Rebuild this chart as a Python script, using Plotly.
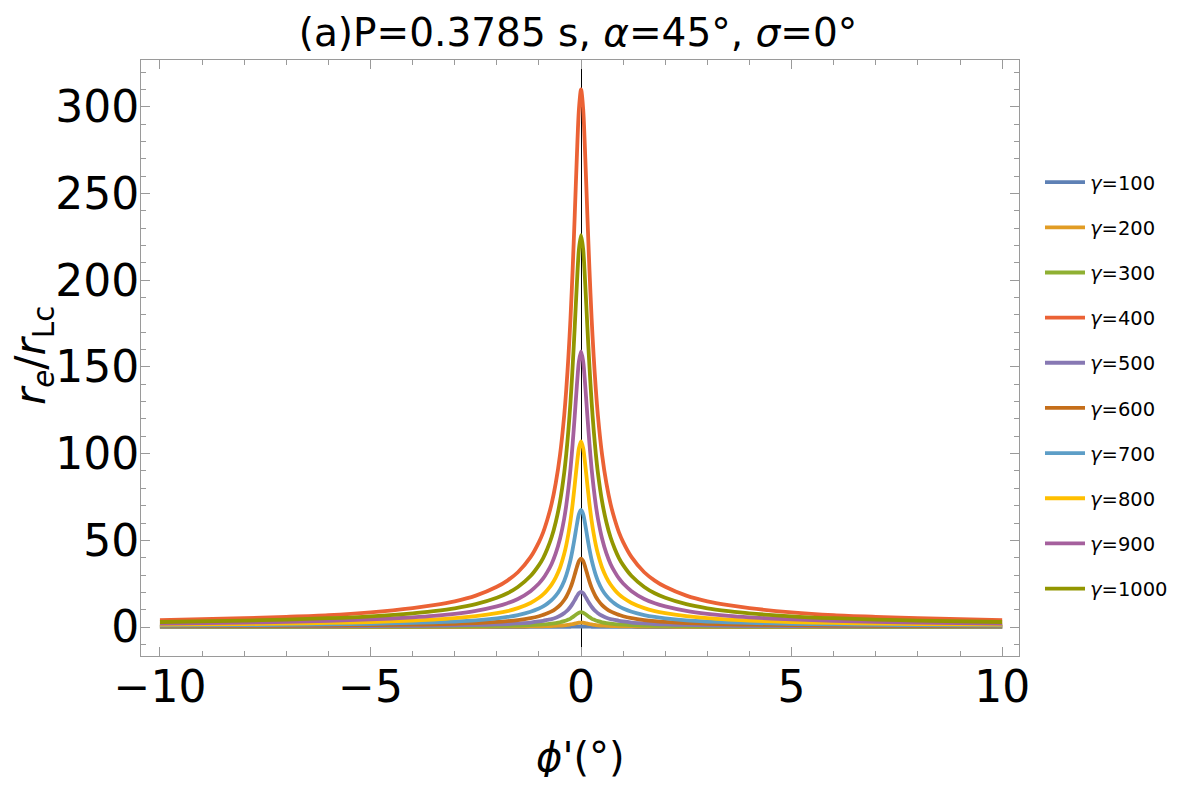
import plotly.graph_objects as go

# phi' (deg), non-negative half; the curves are symmetric about 0
phi_half = [0, 0.05, 0.1, 0.15, 0.2, 0.25, 0.3, 0.35, 0.4, 0.5, 0.6, 0.7, 0.8, 0.9, 1.0,
            1.2, 1.5, 1.75, 2, 2.5, 3, 3.5, 4, 5, 6, 7, 8, 10]

gamma_labels = ["γ=100", "γ=200", "γ=300", "γ=400", "γ=500",
                "γ=600", "γ=700", "γ=800", "γ=900", "γ=1000"]
colors = ["#5E81B5", "#E19C24", "#8FB032", "#EB6235", "#8778B3",
          "#C56E1A", "#5D9EC7", "#FFBF00", "#A5609D", "#929600"]

# r_e / r_Lc values read at phi_half
g100 = [0.31, 0.30, 0.27, 0.24, 0.21, 0.18, 0.16, 0.14, 0.12, 0.10, 0.08, 0.07, 0.06, 0.055, 0.05,
        0.04, 0.03, 0.027, 0.023, 0.018, 0.015, 0.013, 0.011, 0.008, 0.007, 0.006, 0.005, 0.004]
g200 = [2.6, 2.5, 2.27, 1.99, 1.73, 1.5, 1.31, 1.15, 1.02, 0.83, 0.70, 0.60, 0.52, 0.46, 0.41,
        0.34, 0.27, 0.22, 0.19, 0.15, 0.12, 0.11, 0.09, 0.07, 0.06, 0.05, 0.04, 0.03]
g300 = [8.6, 8.3, 7.5, 6.6, 5.7, 4.9, 4.3, 3.8, 3.4, 2.75, 2.3, 1.97, 1.72, 1.51, 1.36,
        1.12, 0.88, 0.74, 0.64, 0.50, 0.41, 0.35, 0.30, 0.24, 0.19, 0.16, 0.14, 0.11]
g400 = [310, 298.8, 270.9, 237.5, 205.8, 178.3, 155.9, 137.3, 122.1, 99.2, 83.1, 71.0, 62.0, 54.6, 49.0,
        40.3, 31.6, 26.8, 23.2, 18.1, 14.8, 12.6, 10.9, 8.5, 6.9, 5.9, 5.1, 4.0]
g500 = [20.3, 19.6, 17.7, 15.5, 13.5, 11.7, 10.2, 9.0, 8.0, 6.5, 5.4, 4.6, 4.1, 3.6, 3.2,
        2.6, 2.1, 1.75, 1.5, 1.2, 0.97, 0.82, 0.71, 0.56, 0.45, 0.38, 0.33, 0.26]
g600 = [39.5, 38.1, 34.5, 30.3, 26.2, 22.7, 19.9, 17.5, 15.6, 12.6, 10.6, 9.0, 7.9, 7.0, 6.2,
        5.1, 4.0, 3.4, 2.95, 2.3, 1.9, 1.6, 1.4, 1.1, 0.88, 0.75, 0.64, 0.51]
g700 = [67.5, 65.1, 59.0, 51.7, 44.8, 38.8, 34.0, 29.9, 26.6, 21.6, 18.1, 15.5, 13.5, 11.9, 10.7,
        8.8, 6.9, 5.8, 5.0, 3.9, 3.2, 2.7, 2.4, 1.8, 1.5, 1.3, 1.1, 0.86]
g800 = [107, 103.1, 93.5, 82.0, 71.0, 61.5, 53.8, 47.4, 42.2, 34.2, 28.7, 24.5, 21.4, 18.8, 16.9,
        13.9, 10.9, 9.2, 8.0, 6.3, 5.1, 4.3, 3.7, 2.9, 2.4, 2.0, 1.7, 1.4]
g900 = [159, 153.3, 139.0, 121.8, 105.6, 91.4, 80.0, 70.4, 62.6, 50.9, 42.6, 36.4, 31.8, 28.0, 25.1,
        20.7, 16.2, 13.7, 11.9, 9.3, 7.6, 6.4, 5.6, 4.4, 3.6, 3.0, 2.6, 2.0]
g1000 = [226, 217.9, 197.5, 173.1, 150.1, 130.0, 113.7, 100.1, 89.0, 72.3, 60.6, 51.8, 45.2, 39.8, 35.7,
         29.4, 23.1, 19.5, 16.9, 13.2, 10.8, 9.2, 7.9, 6.2, 5.1, 4.3, 3.7, 2.9]

series = [g100, g200, g300, g400, g500, g600, g700, g800, g900, g1000]

x_full = [-v for v in phi_half[::-1]] + phi_half[1:]

FONT = "DejaVu Sans"
fig = go.Figure()
for i, (name, col, ys) in enumerate(zip(gamma_labels, colors, series)):
    y_full = ys[::-1] + ys[1:]
    fig.add_trace(go.Scatter(
        x=x_full, y=y_full, mode="lines",
        line=dict(color=col, width=3.8, shape="spline", smoothing=0.8),
        name="<i>γ</i>" + name[1:],
        legendgroup=name, legendrank=i + 1,
    ))

FRAME = "#9a9a9a"
axis_common = dict(
    showline=True, linecolor=FRAME, linewidth=1, mirror="allticks",
    ticks="inside", tickcolor=FRAME, ticklen=9, tickwidth=1,
    showgrid=False, automargin=False, ticklabelstandoff=-8,
    tickfont=dict(family=FONT, size=44, color="black"),
)

# the page body adds an 8 px offset; the figure is sized so the page needs no scrollbars
W, H = 1161, 769
L, T, PW, PH = 133, 52, 878, 596
fig.update_layout(
    width=W, height=H,
    paper_bgcolor="white", plot_bgcolor="white",
    margin=dict(l=L, r=W - L - PW, t=T, b=H - T - PH, autoexpand=False),
    title=dict(text="(a)P=0.3785 s, <i>α</i>=45°, <i>σ</i>=0°",
               font=dict(family=FONT, size=39, color="black"),
               x=570 / W, xanchor="center", xref="container",
               y=1 - 24 / H, yanchor="middle", yref="container"),
    xaxis=dict(range=[-10.45, 10.4], tickvals=[-10, -5, 0, 5, 10],
               minor=dict(dtick=1, ticks="inside", ticklen=5, tickcolor=FRAME),
               zeroline=True, zerolinecolor="black", zerolinewidth=1.2,
               layer="above traces", **axis_common),
    yaxis=dict(range=[-16.7, 327], tickvals=[0, 50, 100, 150, 200, 250, 300],
               minor=dict(dtick=10, ticks="inside", ticklen=5, tickcolor=FRAME),
               zeroline=False, **axis_common),
    legend=dict(x=(1032 - L) / PW, xanchor="left", y=1 - (155 - T) / PH, yanchor="top",
                font=dict(family=FONT, size=19.5, color="black"),
                tracegroupgap=16.8, bgcolor="rgba(0,0,0,0)", itemwidth=40),
    showlegend=True,
    annotations=[
        dict(text="<i>r</i><sub><i>e</i></sub>/<i>r</i><sub>Lc</sub>",
             xref="paper", yref="paper", x=(26 - L) / PW, y=1 - (348 - T) / PH,
             xanchor="center", yanchor="middle", textangle=-90, showarrow=False,
             font=dict(family=FONT, size=42, color="black")),
        dict(text="<i>ϕ</i>'(°)",
             xref="paper", yref="paper", x=(572 - L) / PW, y=1 - (749 - T) / PH,
             xanchor="center", yanchor="middle", showarrow=False,
             font=dict(family=FONT, size=40, color="black")),
    ],
)

fig.write_html("out.html")
